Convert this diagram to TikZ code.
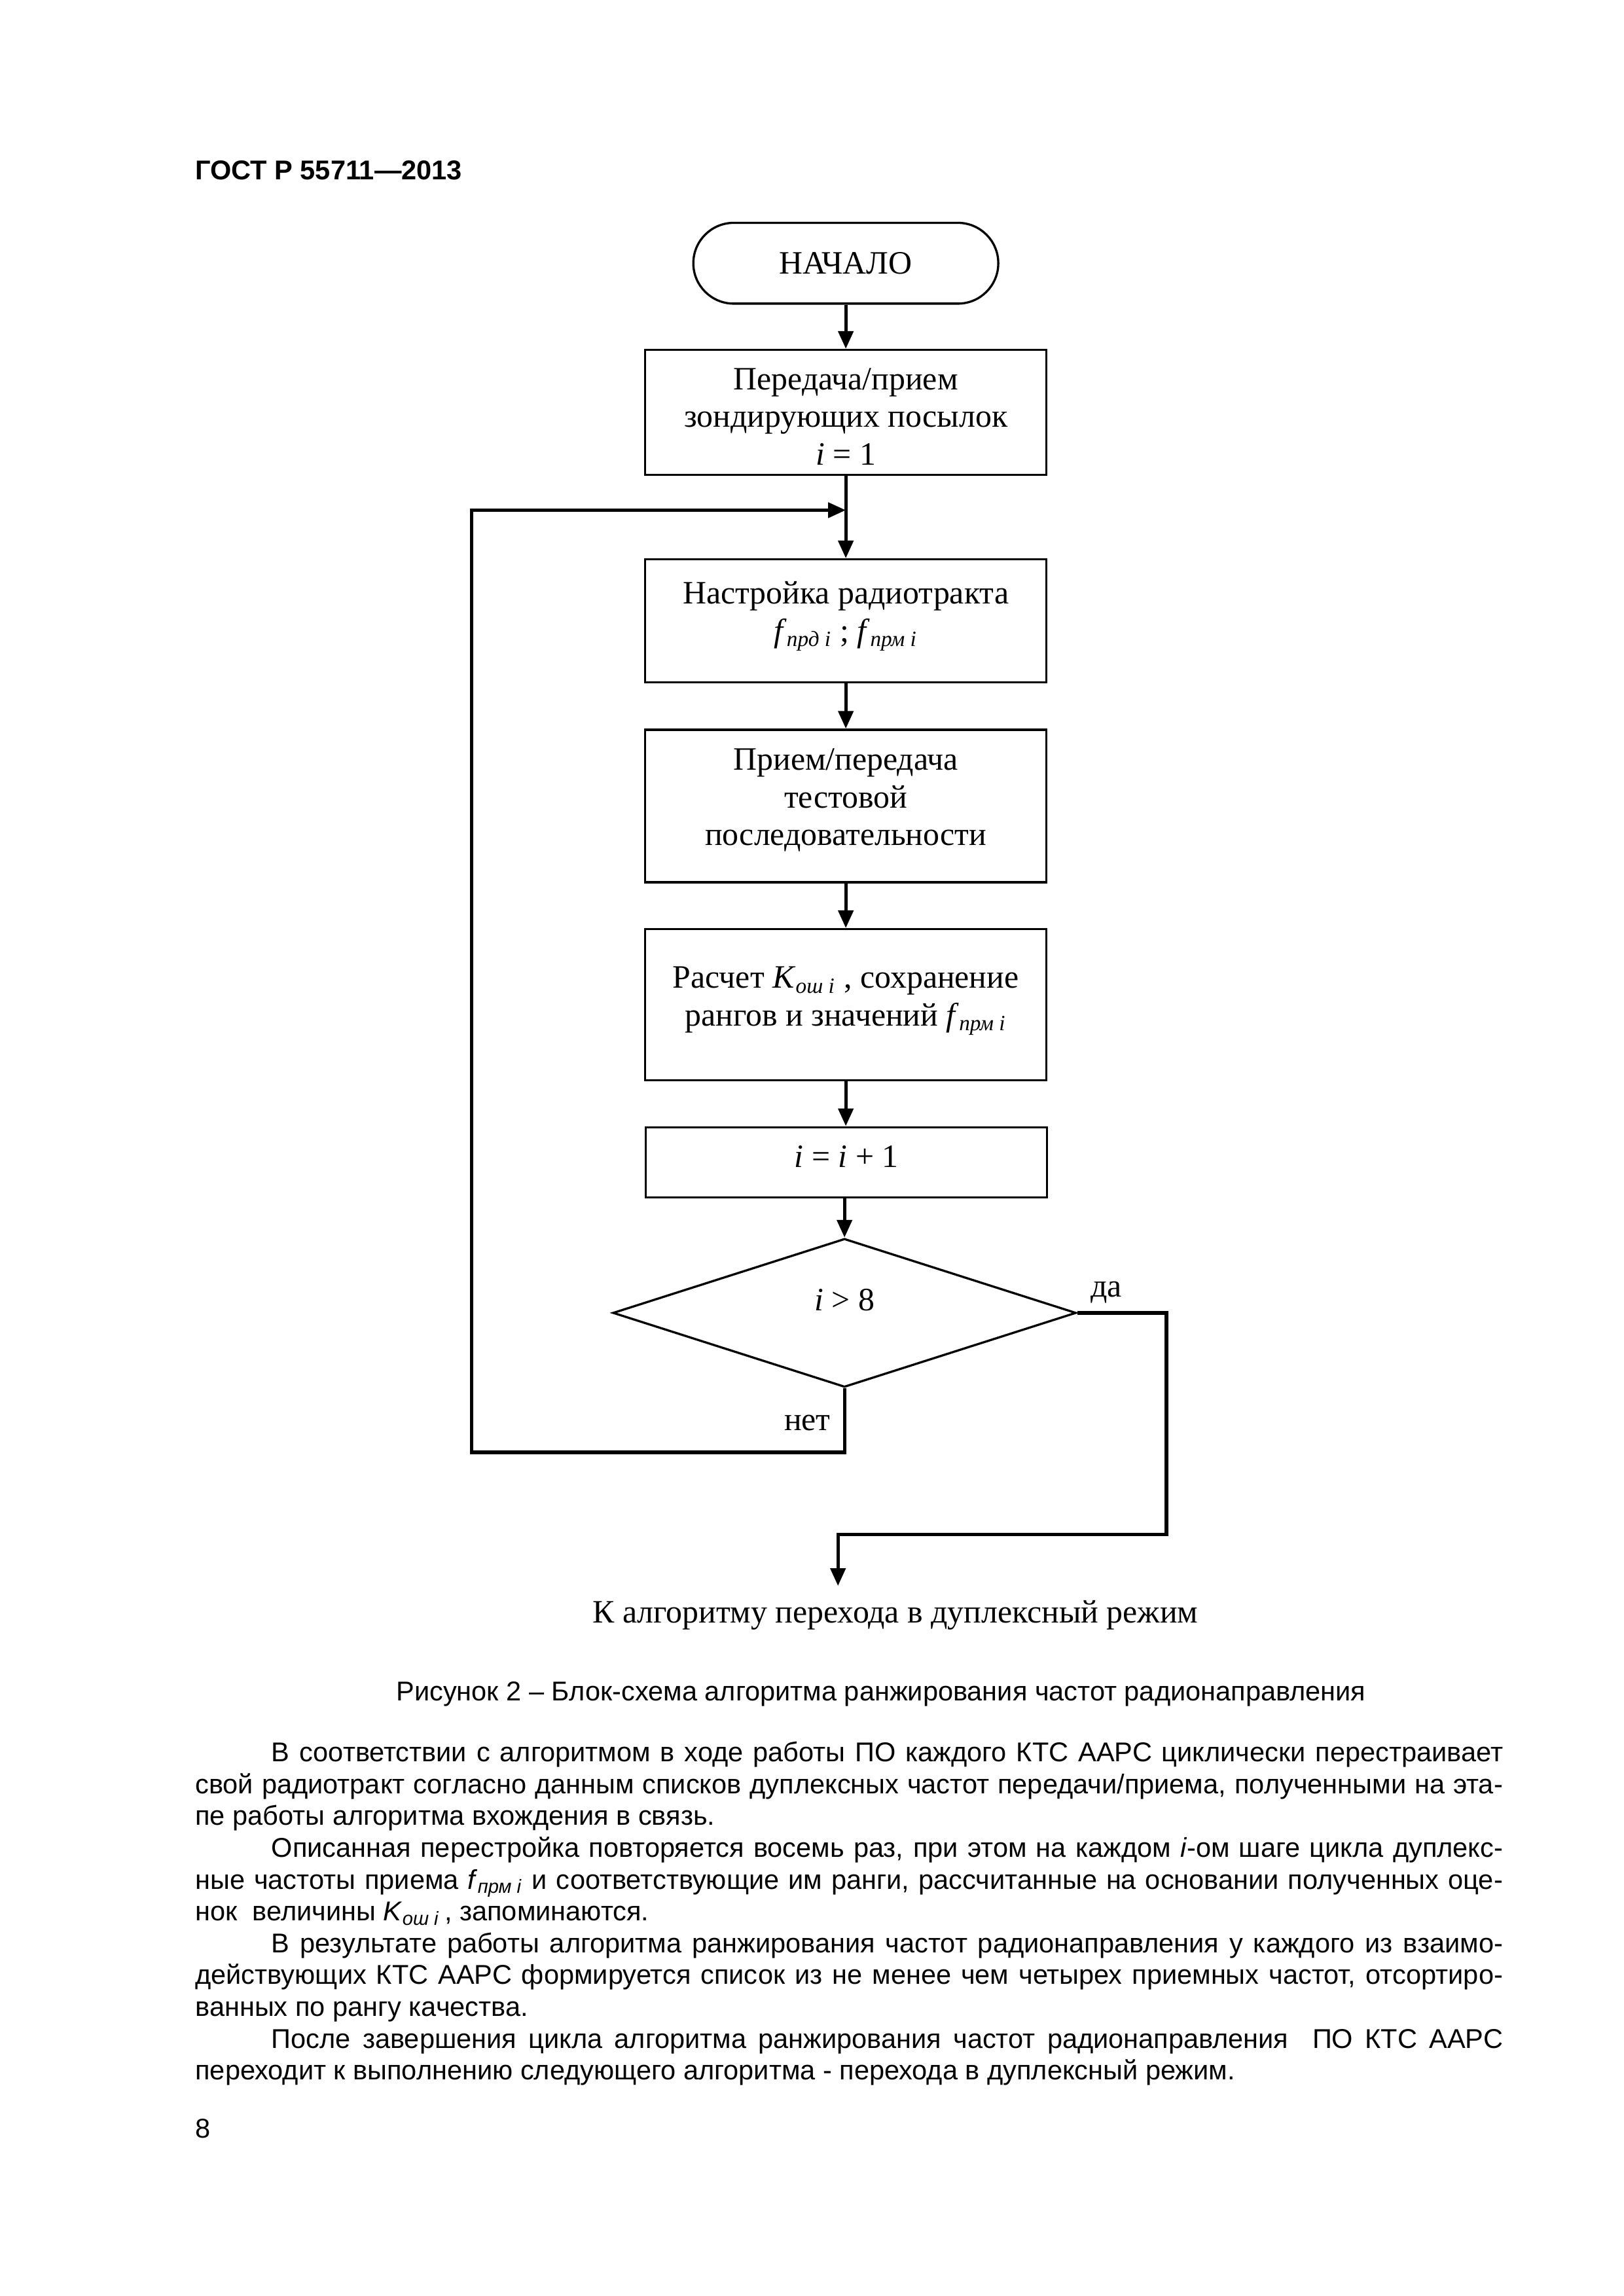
\documentclass[tikz,border=0pt]{standalone}
\usepackage{fontspec}
\setmainfont{Liberation Sans}
\newfontfamily\tnr{Liberation Serif}
\usetikzlibrary{shapes.geometric,arrows.meta}
\newlength\pxu \setlength\pxu{0.084262mm}
\newcommand\ff[1]{\textit{f}\textsubscript{\textit{#1 i}}}
\newcommand\kk{\textit{K}\textsubscript{\textit{ош i}}}
\newcommand\lift[2]{\raisebox{#1}[\height][\depth]{\begin{tabular}{@{}c@{}}#2\end{tabular}}}
\begin{document}
\begin{tikzpicture}[x=\pxu, y=-\pxu,
  dtext/.style={font=\tnr\fontsize{12}{13.8}\selectfont},
  box/.style={draw, line width=0.8pt, dtext, align=center, minimum width=616\pxu, inner sep=0pt},
  term/.style={draw, line width=0.8pt, dtext, rounded corners=62\pxu, minimum width=468\pxu, minimum height=124\pxu, inner sep=0pt},
  dec/.style={draw, line width=0.8pt, dtext, diamond, minimum width=711\pxu, minimum height=228\pxu, inner sep=0pt},
  conn/.style={line width=1.25pt, -{Triangle[length=6.5pt,width=5.5pt]}},
  lbl/.style={dtext, inner sep=0pt},
  body/.style={anchor=base west, inner sep=0pt, font=\fontsize{10}{12}\selectfont}]
\fill[white] (0,0) rectangle (2492.2,3523.9);
\useasboundingbox (0,0) rectangle (2492.2,3523.9);

\node[body, font=\bfseries\fontsize{10}{12}\selectfont] (hdr) at (299,276) {ГОСТ Р 55711—2013};

\node[term] (start) at (1298,404) {НАЧАЛО};
\node[box, minimum height=192\pxu] (b1) at (1298,633) {\lift{-2.7pt}{Передача/прием\\зондирующих посылок\\\textit{i} = 1}};
\node[box, minimum height=189\pxu] (b2) at (1298,953) {\lift{2.1pt}{Настройка радиотракта\\\ff{прд} ; \ff{прм}}};
\node[box, minimum height=234\pxu] (b3) at (1298,1237) {\lift{2.1pt}{Прием/передача\\тестовой\\последовательности}};
\node[box, minimum height=232\pxu] (b4) at (1298,1542) {\lift{1.9pt}{Расчет \kk\ , сохранение\\рангов и значений \ff{прм}}};
\node[box, minimum height=108\pxu] (b5) at (1299,1784) {\lift{1.0pt}{\textit{i} = \textit{i} + 1}};
\node[dec] (dia) at (1296,2015) {\lift{3.7pt}{\textit{i} > 8}};

\coordinate (join) at (1298,783);
\coordinate (lb) at (724,2229);
\coordinate (lt) at (724,783);
\coordinate (r1) at (1790,2355);
\coordinate (r2) at (1286,2355);
\coordinate (endp) at (1286,2434);

\draw[conn] (start) -- (b1);
\draw[conn] (b1) -- (b2);
\draw[conn] (b2) -- (b3);
\draw[conn] (b3) -- (b4);
\draw[conn] (b4.south) -- (b4.south |- b5.north);
\draw[conn] (b5.south -| dia.north) -- (dia.north);
\draw[conn] (dia.south) |- (lb) -- (lt) -- (join);
\draw[conn] (dia.east) -| (r1) -- (r2) -- (endp);

\node[lbl] (yes) at (1698,1984) {да};
\node[lbl] (no) at (1239,2184) {нет};
\node[lbl] (out) at (1374,2479) {К алгоритму перехода в дуплексный режим};

\node[anchor=base, inner sep=0pt, font=\fontsize{10}{12}\selectfont] (cap) at (1352,2610) {Рисунок 2 – Блок-схема алгоритма ранжирования частот радионаправления};

\node[body] (l1) at (416,2704) {\makebox[453pt][s]{В соответствии с алгоритмом в ходе работы ПО каждого КТС ААРС циклически перестраивает}};
\node[body] (l2) at (299,2752.8) {\makebox[481pt][s]{свой радиотракт согласно данным списков дуплексных частот передачи/приема, полученными на эта-}};
\node[body] (l3) at (299,2801.6) {пе работы алгоритма вхождения в связь.};
\node[body] (l4) at (416,2850.4) {\makebox[453pt][s]{Описанная перестройка повторяется восемь раз, при этом на каждом \textit{i}-ом шаге цикла дуплекс-}};
\node[body] (l5) at (299,2899.2) {\makebox[481pt][s]{ные частоты приема \ff{прм} и соответствующие им ранги, рассчитанные на основании полученных оце-}};
\node[body] (l6) at (299,2948) {нок \ величины \kk\,, запоминаются.};
\node[body] (l7) at (416,2996.8) {\makebox[453pt][s]{В результате работы алгоритма ранжирования частот радионаправления у каждого из взаимо-}};
\node[body] (l8) at (299,3045.6) {\makebox[481pt][s]{действующих КТС ААРС формируется список из не менее чем четырех приемных частот, отсортиро-}};
\node[body] (l9) at (299,3094.4) {ванных по рангу качества.};
\node[body] (l10) at (416,3143.2) {\makebox[453pt][s]{После завершения цикла алгоритма ранжирования частот радионаправления \ ПО КТС ААРС}};
\node[body] (l11) at (299,3192) {переходит к выполнению следующего алгоритма - перехода в дуплексный режим.};

\node[body] (pg) at (299,3281) {8};
\end{tikzpicture}
\end{document}
